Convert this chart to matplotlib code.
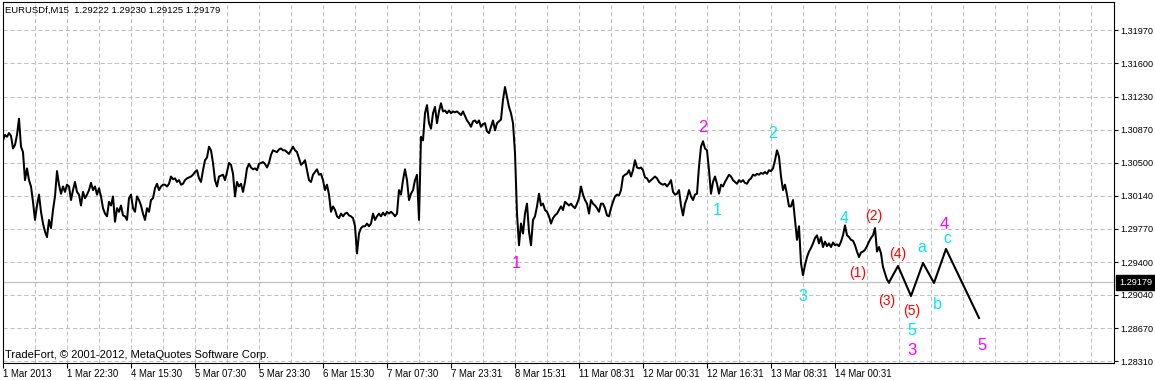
import matplotlib
matplotlib.use("Agg")
import matplotlib.pyplot as plt
import numpy as np
from matplotlib.ticker import MultipleLocator

plt.rcParams['font.family'] = ['Liberation Sans', 'DejaVu Sans']
plt.rcParams['lines.scale_dashes'] = False

# ---------------- data ----------------
symbol_title = "EURUSDf,M15  1.29222 1.29230 1.29125 1.29179"
copyright_text = "TradeFort, \u00a9 2001-2012, MetaQuotes Software Corp."

# close price sampled every 2 bars (M15)
close = [
    1.3075, 1.3081, 1.3079, 1.3083, 1.3080, 1.3066, 1.3070, 1.3081, 1.3099, 1.3068,
    1.3062, 1.3031, 1.3044, 1.3031, 1.3024, 1.3007, 1.2987, 1.3003, 1.3015, 1.2996,
    1.2983, 1.2974, 1.2968, 1.2987, 1.2978, 1.2998, 1.3013, 1.3041, 1.3026, 1.3016,
    1.3024, 1.3018, 1.3026, 1.3024, 1.3009, 1.3020, 1.3029, 1.3018, 1.3015, 1.3003,
    1.3018, 1.3011, 1.3015, 1.3020, 1.3028, 1.3020, 1.3024, 1.3015, 1.3022, 1.3013,
    1.3000, 1.2994, 1.2991, 1.3007, 1.3003, 1.3013, 1.2985, 1.3000, 1.2996, 1.3003,
    1.2992, 1.2991, 1.2987, 1.3011, 1.3015, 1.3000, 1.2996, 1.3013, 1.3009, 1.3003,
    1.2994, 1.2987, 1.3000, 1.2996, 1.3009, 1.3011, 1.3022, 1.3027, 1.3020, 1.3024,
    1.3026, 1.3026, 1.3024, 1.3027, 1.3035, 1.3032, 1.3033, 1.3029, 1.3031, 1.3026,
    1.3027, 1.3031, 1.3033, 1.3034, 1.3035, 1.3037, 1.3040, 1.3042, 1.3033, 1.3029,
    1.3042, 1.3053, 1.3056, 1.3068, 1.3064, 1.3050, 1.3031, 1.3024, 1.3035, 1.3036,
    1.3037, 1.3031, 1.3040, 1.3050, 1.3048, 1.3038, 1.3013, 1.3029, 1.3024, 1.3027,
    1.3018, 1.3029, 1.3044, 1.3049, 1.3045, 1.3043, 1.3044, 1.3042, 1.3049, 1.3050,
    1.3051, 1.3049, 1.3045, 1.3050, 1.3059, 1.3064, 1.3063, 1.3062, 1.3065, 1.3066,
    1.3064, 1.3064, 1.3062, 1.3060,
    1.3064, 1.3068, 1.3064, 1.3062, 1.3055, 1.3048,
    1.3050, 1.3053, 1.3042, 1.3031, 1.3029, 1.3037, 1.3040, 1.3043, 1.3037, 1.3038,
    1.3031, 1.3020, 1.3026, 1.3015, 1.2996, 1.3002, 1.2998, 1.2991, 1.2989, 1.2994,
    1.2991, 1.2994, 1.2995, 1.2992, 1.2991, 1.2989, 1.2980, 1.2950, 1.2972, 1.2978,
    1.2980, 1.2980, 1.2983, 1.2980, 1.2983, 1.2994, 1.2987, 1.2991, 1.2994, 1.2991,
    1.2995, 1.2992, 1.2996, 1.2994, 1.2996, 1.2994, 1.2991, 1.2994, 1.3020, 1.3015,
    1.3031, 1.3043, 1.3031, 1.3009, 1.3016, 1.3020, 1.3031, 1.3037, 1.2987, 1.3079,
    1.3075, 1.3105, 1.3114, 1.3094, 1.3088, 1.3105, 1.3112, 1.3094, 1.3107, 1.3116,
    1.3107, 1.3108, 1.3105, 1.3108, 1.3105, 1.3107, 1.3106, 1.3107, 1.3105, 1.3103,
    1.3107, 1.3102, 1.3097, 1.3094, 1.3090, 1.3096, 1.3097, 1.3094, 1.3097, 1.3090,
    1.3093, 1.3094, 1.3085, 1.3083, 1.3090, 1.3097, 1.3086, 1.3094, 1.3096, 1.3098,
    1.3120, 1.3134, 1.3123, 1.3112, 1.3105, 1.3094, 1.3061, 1.2994, 1.2959, 1.2983,
    1.2972, 1.2994, 1.3005, 1.2974, 1.2959, 1.2987, 1.2991, 1.3002, 1.3016, 1.3003,
    1.3005, 1.2998, 1.2996, 1.2991, 1.2983, 1.2989, 1.2992, 1.2994, 1.2998, 1.3002,
    1.2998, 1.3007, 1.3005, 1.3003, 1.3005, 1.3002, 1.3000, 1.3005, 1.3011,
    1.3024, 1.3015, 1.3009, 1.3005, 1.2994, 1.3009, 1.3005, 1.3003, 1.3000, 1.2996,
    1.3005, 1.3005, 1.3000, 1.2992, 1.2991, 1.3000, 1.3007, 1.3013, 1.3015, 1.3014,
    1.3020, 1.3035, 1.3037, 1.3038, 1.3042, 1.3035, 1.3042, 1.3053, 1.3045, 1.3044,
    1.3045, 1.3042, 1.3034, 1.3033, 1.3029, 1.3031, 1.3033, 1.3035, 1.3033, 1.3029,
    1.3027, 1.3026, 1.3027, 1.3024, 1.3027, 1.3031, 1.3018, 1.3015, 1.3016, 1.3020,
    1.3003, 1.2992, 1.3005, 1.3011, 1.3020, 1.3013, 1.3009, 1.3015, 1.3016, 1.3046,
    1.3068, 1.3074, 1.3066, 1.3064, 1.3042, 1.3016, 1.3029, 1.3035, 1.3027, 1.3016,
    1.3026, 1.3024, 1.3029, 1.3033, 1.3037, 1.3035, 1.3031, 1.3029, 1.3027, 1.3031,
    1.3029, 1.3031, 1.3028, 1.3027, 1.3031, 1.3033, 1.3037, 1.3036, 1.3038, 1.3037,
    1.3039, 1.3038, 1.3040, 1.3038, 1.3042, 1.3041, 1.3044, 1.3053, 1.3064, 1.3057,
    1.3035, 1.3020, 1.3026, 1.3015, 1.3002,
    1.3002, 1.3009, 1.2987, 1.2965, 1.2980, 1.2939, 1.2926, 1.2937, 1.2946, 1.2952,
    1.2956, 1.2961, 1.2967, 1.2970, 1.2961, 1.2968, 1.2957, 1.2963, 1.2958, 1.2961,
    1.2957, 1.2962, 1.2959, 1.2960, 1.2958, 1.2963, 1.2970, 1.2981, 1.2970, 1.2968,
    1.2965, 1.2964, 1.2959, 1.2952, 1.2946, 1.2951, 1.2952, 1.2954, 1.2958, 1.2963,
    1.2967, 1.2970, 1.2978, 1.2952, 1.2957, 1.2950, 1.2935, 1.2928, 1.2921, 1.29179,
]
bar_step = 2
last_price = 1.29179

# projected wave path (bar index, price)
wave_bar = [886, 895, 908, 920, 931, 943, 976]
wave_price = [1.29179, 1.29361, 1.29029, 1.29394, 1.29173, 1.29549, 1.28786]

# wave labels (text, bar, baseline price, colour, size)
label_text = ["1", "2", "1", "2", "3", "4", "(1)", "(2)", "(3)", "(4)", "(5)",
              "5", "3", "a", "b", "4", "c", "5"]
label_bar = [513, 700, 714, 770, 800, 841, 855, 871, 884, 895, 909,
             909, 909, 919, 934, 941, 944, 979]
label_price = [1.29339, 1.30842, 1.29925, 1.30776, 1.28972, 1.29836, 1.29234,
               1.29864, 1.28930, 1.29444, 1.28819, 1.28598, 1.28377, 1.29510,
               1.28885, 1.29770, 1.29612, 1.28432]
label_color = ["#FF00FF", "#FF00FF", "#00E8F0", "#00E8F0", "#00E8F0", "#00E8F0",
               "#FF0000", "#FF0000", "#FF0000", "#FF0000", "#FF0000",
               "#00E8F0", "#FF00FF", "#00E8F0", "#00E8F0", "#FF00FF", "#00E8F0",
               "#FF00FF"]
label_size = [12, 12, 11.5, 11.5, 11.5, 11.5, 10, 10, 10, 10, 10,
              11.5, 12, 11.5, 11.5, 12, 11.5, 12]

price_ticks = [1.31970, 1.31600, 1.31230, 1.30870, 1.30500, 1.30140,
               1.29770, 1.29400, 1.29040, 1.28670, 1.28310]
date_labels = ["1 Mar 2013", "1 Mar 22:30", "4 Mar 15:30", "5 Mar 07:30",
               "5 Mar 23:30", "6 Mar 15:30", "7 Mar 07:30", "7 Mar 23:31",
               "8 Mar 15:31", "11 Mar 08:31", "12 Mar 00:31", "12 Mar 16:31",
               "13 Mar 08:31", "14 Mar 00:31"]
bars_per_label = 64

# ---------------- figure ----------------
W, H = 1155, 380
fig = plt.figure(figsize=(W / 100, H / 100), dpi=100)
fig.patch.set_facecolor("white")
ax = fig.add_axes([3 / W, 17 / H, 1111 / W, 361 / H])
ax.set_xlim(0, 1111)
ax.set_ylim(1.28288, 1.32280)
ax.set_axisbelow(True)

bars = np.arange(len(close)) * bar_step
ax.axhline(last_price, color="#C0C0C0", lw=0.9, zorder=2)
ax.plot(bars, close, color="black", lw=1.45, zorder=3)
ax.plot(wave_bar, wave_price, color="black", lw=1.5, zorder=3)

for t, b, p, c, s in zip(label_text, label_bar, label_price, label_color, label_size):
    ax.text(b, p, t, color=c, fontsize=s, ha="center", va="baseline", zorder=4)

# axes styling
for sp in ax.spines.values():
    sp.set_color("black")
    sp.set_linewidth(0.8)

ax.yaxis.tick_right()
ax.set_yticks(price_ticks)
ax.set_yticklabels([f"{v:.5f}" for v in price_ticks])
ax.tick_params(axis="y", which="major", direction="out", length=3, width=0.8,
               pad=1.5, labelsize=6.6, colors="black")

ax.set_xticks(np.arange(len(date_labels)) * bars_per_label)
ax.set_xticklabels(date_labels, ha="left")
ax.tick_params(axis="x", which="major", direction="out", length=3.5, width=0.8,
               pad=1.0, labelsize=6.9, colors="black")
ax.xaxis.set_minor_locator(MultipleLocator(bars_per_label // 2))
ax.tick_params(axis="x", which="minor", length=0)

grid_kw = dict(color="#C0C0C0", lw=0.75, linestyle=(0, (3, 2)))
ax.grid(axis="x", which="both", **grid_kw)
ax.grid(axis="y", which="major", **grid_kw)

# current price box
ax.annotate(f"{last_price:.5f}", xy=(1, last_price),
            xycoords=("axes fraction", "data"), xytext=(3.6, 0),
            textcoords="offset points", ha="left", va="center",
            color="white", fontsize=6.6, annotation_clip=False,
            bbox=dict(boxstyle="square,pad=0.35", fc="black", ec="black"))

fig.text(5 / W, 1 - 10 / H, symbol_title, fontsize=6.8, ha="left", va="center")
fig.text(5 / W, 1 - 355 / H, copyright_text, fontsize=8, ha="left", va="center")

fig.savefig("out.png", dpi=100, facecolor="white")
